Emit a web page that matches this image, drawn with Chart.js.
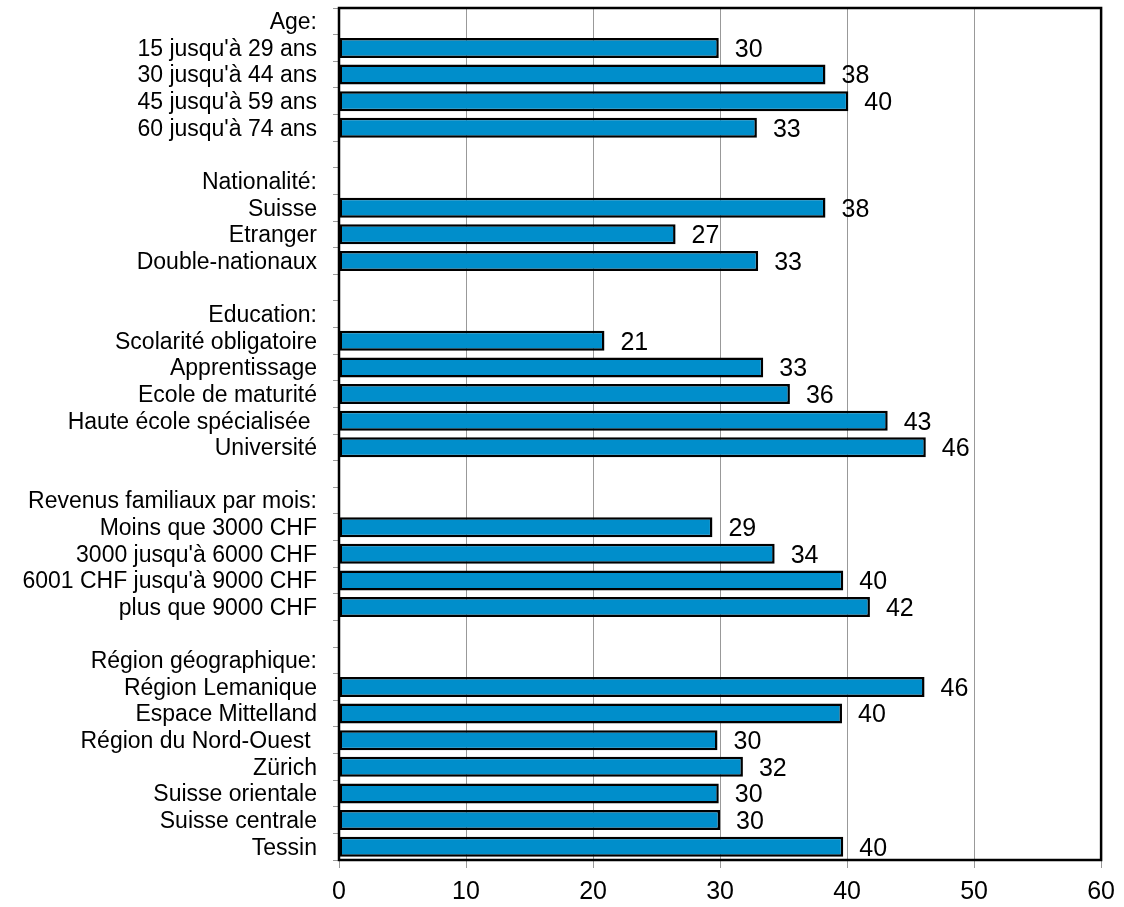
<!DOCTYPE html>
<html>
<head>
<meta charset="utf-8">
<script src="https://cdn.jsdelivr.net/npm/chart.js@4/dist/chart.umd.min.js"></script>
<style>
  body { margin: 0; background: #fff; }
  #wrap { width: 1124px; height: 907px; }
</style>
</head>
<body>
<div id="wrap"><canvas id="chart"></canvas></div>
<script>
// rows of the chart, headers and blank spacer rows have no value
const categories = [
    "Age:", "15 jusqu'à 29 ans", "30 jusqu'à 44 ans", "45 jusqu'à 59 ans", "60 jusqu'à 74 ans",
    "",
    "Nationalité:", "Suisse", "Etranger", "Double-nationaux",
    "",
    "Education:", "Scolarité obligatoire", "Apprentissage", "Ecole de maturité", "Haute école spécialisée ", "Université",
    "",
    "Revenus familiaux par mois:", "Moins que 3000 CHF", "3000 jusqu'à 6000 CHF", "6001 CHF jusqu'à 9000 CHF", "plus que 9000 CHF",
    "",
    "Région géographique:", "Région Lemanique", "Espace Mittelland", "Région du Nord-Ouest ", "Zürich", "Suisse orientale", "Suisse centrale", "Tessin"
];
const values = [
    null, 29.9, 38.3, 40.1, 32.9,
    null,
    null, 38.3, 26.5, 33.0,
    null,
    null, 20.9, 33.4, 35.5, 43.2, 46.2,
    null,
    null, 29.4, 34.3, 39.7, 41.8,
    null,
    null, 46.1, 39.6, 29.8, 31.8, 29.9, 30.0, 39.7
];
const xTicks = [0, 10, 20, 30, 40, 50, 60];

const FONT = "'Liberation Sans', Arial, sans-serif";

/* ===============================
   PLUGINS
================================ */
const frame = {
    id: "frame",
    afterDraw(chart) {
        const a = chart.chartArea;
        const c = chart.ctx;
        c.save();
        c.strokeStyle = "#000";
        c.lineWidth = 2.5;
        c.strokeRect(a.left, a.top, a.right - a.left, a.bottom - a.top);
        c.restore();
    }
};

const valueLabels = {
    id: "valueLabels",
    afterDatasetsDraw(chart) {
        const c = chart.ctx;
        const meta = chart.getDatasetMeta(0);
        c.save();
        c.font = "25px " + FONT;
        c.fillStyle = "#000";
        c.textAlign = "left";
        c.textBaseline = "middle";
        meta.data.forEach((bar, i) => {
            const v = values[i];
            if (v == null) return;
            c.fillText(String(Math.round(v)), bar.x + 16, bar.y + 2);
        });
        c.restore();
    }
};

/* ===============================
   CHART
================================ */
new Chart(document.getElementById("chart"), {
    type: "bar",
    data: {
        labels: categories,
        datasets: [{
            data: values,
            backgroundColor: "#008ecb",
            borderColor: "#000",
            borderWidth: 2.5,
            borderSkipped: false,
            barPercentage: 0.75,
            categoryPercentage: 1
        }]
    },
    options: {
        indexAxis: "y",
        responsive: true,
        maintainAspectRatio: false,
        animation: false,
        layout: { padding: { top: 8, right: 22, left: 0, bottom: 0 } },
        plugins: { legend: { display: false }, tooltip: { enabled: false } },
        scales: {
            x: {
                min: 0,
                max: 60,
                afterBuildTicks: (scale) => { scale.ticks = xTicks.map(v => ({ value: v })); },
                afterFit: (scale) => { scale.height = 47; },
                grid: { color: "#999", tickColor: "#999", tickLength: 8, lineWidth: 1 },
                border: { display: false },
                ticks: { color: "#000", font: { family: FONT, size: 25 }, padding: 9, maxRotation: 0 }
            },
            y: {
                afterFit: (scale) => {
                    scale.width = 339;
                    scale.paddingTop = 0;
                    scale.paddingBottom = 0;
                },
                grid: { drawOnChartArea: false, offset: true, color: "#999", tickLength: 6 },
                border: { display: false },
                ticks: { color: "#000", font: { family: FONT, size: 23 }, padding: 16, labelOffset: 1.5, autoSkip: false }
            }
        }
    },
    plugins: [frame, valueLabels]
});
</script>
</body>
</html>
